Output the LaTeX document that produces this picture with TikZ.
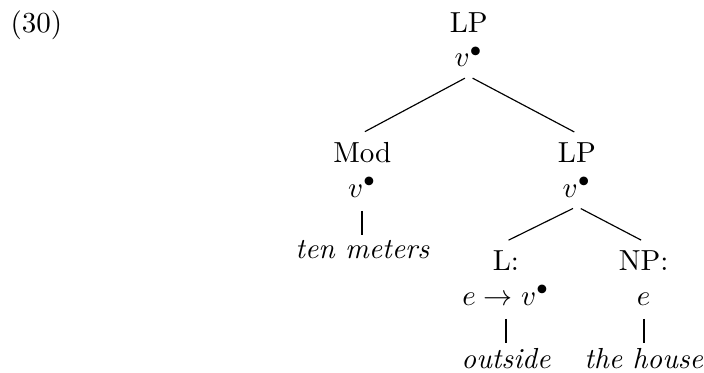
\documentclass[tikz,border=0pt]{standalone}
\usetikzlibrary{positioning}
\tikzset{
  cat/.style={align=center, inner sep=3pt, anchor=base},
  leaf/.style={font=\itshape, inner sep=1pt, anchor=base},
  branch/.style={shorten <=1.5pt, shorten >=1pt},
  bar/.style={line width=0.7pt, shorten <=1.5pt, shorten >=0.5pt}
}
\begin{document}
\begin{tikzpicture}
  \useasboundingbox (0,0) rectangle (8.53,-4.51);
  \node[anchor=base] (exnum) at (0.44,-0.39) {(30)};
  % tree
  \node[cat] (top) at (5.68,-0.81) {LP\\$v^\bullet$};
  \node[cat] (mod) at (4.39,-2.39) {Mod\\$v^\bullet$};
  \node[cat] (lp) at (6.99,-2.39) {LP\\$v^\bullet$};
  \node[cat] (loc) at (6.13,-3.70) {L:\\$e\rightarrow v^\bullet$};
  \node[cat] (np) at (7.80,-3.70) {NP:\\$e$};
  \node[leaf] (tenm) at (4.39,-3.13) {ten meters};
  \node[leaf] (outs) at (6.13,-4.46) {outside};
  \node[leaf] (house) at (7.80,-4.46) {the house};
  \draw[branch] (top.south) -- (mod.north);
  \draw[branch] (top.south) -- (lp.north);
  \draw[branch] (lp.south) -- (loc.north);
  \draw[branch] (lp.south) -- (np.north);
  \draw[bar] (mod.south) -- (tenm.north);
  \draw[bar] (loc.south) -- (outs.north);
  \draw[bar] (np.south) -- (house.north);
\end{tikzpicture}
\end{document}
